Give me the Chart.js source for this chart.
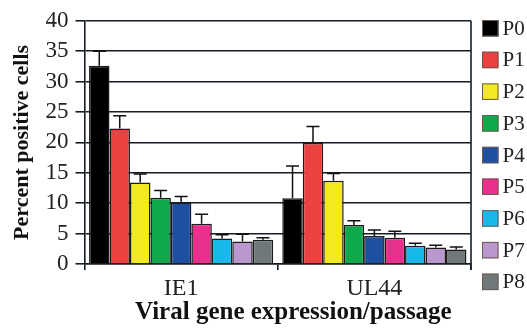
<!DOCTYPE html>
<html>
<head>
<meta charset="utf-8">
<script src="https://cdn.jsdelivr.net/npm/chart.js@4/dist/chart.umd.min.js"></script>
<style>
  html, body { margin: 0; padding: 0; background: #ffffff; }
  #wrap { width: 527px; height: 328px; position: relative; }
</style>
</head>
<body>
<div id="wrap"><canvas id="c" width="527" height="328"></canvas></div>
<script>
// ---- data ----
const categories = ['IE1', 'UL44'];
const seriesNames = ['P0', 'P1', 'P2', 'P3', 'P4', 'P5', 'P6', 'P7', 'P8'];
const ie1Values  = [32.6, 22.3, 13.4, 10.9, 10.1, 6.6, 4.2, 3.7, 4.0];
const ie1Errors  = [2.4, 2.1, 1.4, 1.2, 1.0, 1.6, 0.6, 1.2, 0.3];
const ul44Values = [10.8, 19.9, 13.7, 6.4, 4.6, 4.3, 3.0, 2.7, 2.4];
const ul44Errors = [5.3, 2.7, 1.2, 0.7, 1.0, 1.1, 0.4, 0.4, 0.4];
const yTicks = [0, 5, 10, 15, 20, 25, 30, 35, 40];
const seriesColors = ['#000000', '#ec4140', '#f2e923', '#0ea94b', '#1e4fa1', '#ea2f8c', '#18b9ea', '#ba98cd', '#6f7979'];

const FONT = '"Liberation Serif", "Times New Roman", serif';
const LINE = '#141d26';

const datasets = seriesNames.map((name, i) => ({
  label: name,
  data: [ie1Values[i], ul44Values[i]],
  errors: [ie1Errors[i], ul44Errors[i]],
  backgroundColor: seriesColors[i],
  borderColor: '#1a1a1a',
  borderWidth: 1.5,
  categoryPercentage: 0.953,
  barPercentage: 1.0
}));

const errorBars = {
  id: 'errorBars',
  afterDatasetsDraw(chart) {
    const ctx = chart.ctx;
    const y = chart.scales.y;
    ctx.save();
    ctx.strokeStyle = '#111111';
    ctx.lineWidth = 1.5;
    chart.data.datasets.forEach((ds, di) => {
      const meta = chart.getDatasetMeta(di);
      meta.data.forEach((bar, j) => {
        const v = ds.data[j], e = ds.errors[j];
        const y0 = y.getPixelForValue(v);
        const y1 = y.getPixelForValue(v + e);
        const cap = 6.5;
        ctx.beginPath();
        ctx.moveTo(bar.x, y0);
        ctx.lineTo(bar.x, y1);
        ctx.moveTo(bar.x - cap, y1);
        ctx.lineTo(bar.x + cap, y1);
        ctx.stroke();
      });
    });
    ctx.restore();
  }
};

const frameAndLegend = {
  id: 'frameAndLegend',
  afterDraw(chart) {
    const ctx = chart.ctx;
    const a = chart.chartArea;
    ctx.save();
    // right frame line
    ctx.strokeStyle = LINE;
    ctx.lineWidth = 1.6;
    ctx.beginPath();
    ctx.moveTo(a.right, a.top);
    ctx.lineTo(a.right, a.bottom + 6);
    ctx.stroke();
    // legend
    const x0 = 482, top0 = 20, step = 31.7, box = 16.5;
    ctx.font = '21px ' + FONT;
    ctx.textBaseline = 'middle';
    ctx.textAlign = 'left';
    chart.data.datasets.forEach((ds, i) => {
      const yTop = top0 + i * step;
      ctx.fillStyle = ds.backgroundColor;
      ctx.fillRect(x0, yTop, box, box);
      ctx.strokeStyle = '#6a5a50';
      ctx.lineWidth = 1;
      ctx.strokeRect(x0 + 0.5, yTop + 0.5, box - 1, box - 1);
      ctx.fillStyle = '#222222';
      ctx.fillText(ds.label, x0 + box + 4, yTop + box / 2 + 1);
    });
    ctx.restore();
  }
};

new Chart(document.getElementById('c'), {
  type: 'bar',
  data: { labels: categories, datasets: datasets },
  options: {
    responsive: false,
    animation: false,
    layout: { padding: { top: 20, right: 56, bottom: 0, left: 0 } },
    plugins: {
      legend: { display: false },
      tooltip: { enabled: false }
    },
    scales: {
      x: {
        offset: true,
        grid: { offset: true, drawOnChartArea: false, drawTicks: true, tickLength: 6, color: LINE, lineWidth: 1.6 },
        border: { display: true, color: LINE, width: 1.6 },
        ticks: { font: { family: FONT, size: 24 }, color: '#222222', padding: 4 },
        title: {
          display: true,
          text: '     Viral gene expression/passage',
          font: { family: FONT, size: 25, weight: 'bold' },
          color: '#111111',
          padding: { top: 0, bottom: 0 }
        },
        afterFit(scale) { scale.height = 64; }
      },
      y: {
        min: 0,
        max: 40,
        afterBuildTicks(scale) { scale.ticks = yTicks.map(v => ({ value: v })); },
        grid: { color: LINE, lineWidth: 1.6, drawTicks: true, tickLength: 9 },
        border: { display: true, color: LINE, width: 1.6 },
        ticks: { font: { family: FONT, size: 23 }, color: '#222222', padding: 7, autoSkip: false },
        title: {
          display: true,
          text: 'Percent positive cells',
          font: { family: FONT, size: 22, weight: 'bold' },
          color: '#111111',
          padding: { top: 9, bottom: 0 }
        },
        afterFit(scale) { scale.width = 84.5; }
      }
    }
  },
  plugins: [errorBars, frameAndLegend]
});
</script>
</body>
</html>
